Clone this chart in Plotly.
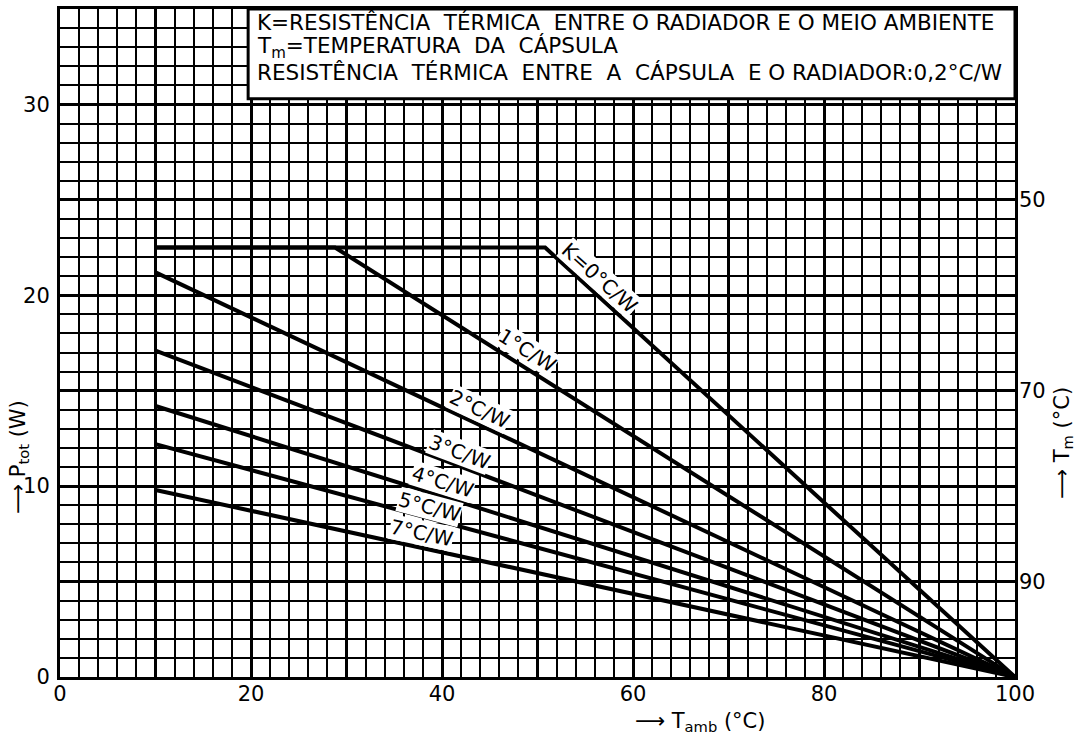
import plotly.graph_objects as go

# curves: ambient temperature vs total power, one per heatsink resistance K
k_labels = ["K=0°C/W", "1°C/W", "2°C/W", "3°C/W", "4°C/W", "5°C/W", "7°C/W"]
t_amb = [
    [10, 50.8, 100],
    [10, 28.8, 100],
    [10, 100],
    [10, 100],
    [10, 100],
    [10, 100],
    [10, 100],
]
p_tot = [
    [22.5, 22.5, 0],
    [22.5, 22.5, 0],
    [21.2, 0],
    [17.1, 0],
    [14.2, 0],
    [12.2, 0],
    [9.8, 0],
]

x_tickvals = [0, 10, 20, 30, 40, 50, 60, 70, 80, 90, 100]
x_ticktext = ["0", "", "20", "", "40", "", "60", "", "80", "", "100"]
y_tickvals = [0, 5, 10, 15, 20, 25, 30, 35]
y_ticktext = ["0", "", "10", "", "20", "", "30", ""]
tm_ticks = [50, 70, 90]

box_lines = [
    "K=RESISTÊNCIA  TÉRMICA  ENTRE O RADIADOR E O MEIO AMBIENTE",
    "T<sub>m</sub>=TEMPERATURA  DA  CÁPSULA",
    "RESISTÊNCIA  TÉRMICA  ENTRE  A  CÁPSULA  E O RADIADOR:0,2°C/W",
]

# label placement (x, y, angle) along each curve
label_pos = [
    (56.5, 20.9, 42),
    (48.9, 17.15, 32),
    (43.9, 14.05, 25),
    (41.8, 11.8, 20.5),
    (40.1, 10.2, 17.3),
    (38.7, 8.9, 15),
    (37.9, 7.55, 12),
]

FONT = "DejaVu Sans"

L, R, T, B = 60, 65, 9, 65
W, H = 1080, 742

fig = go.Figure()

for xs, ys, name in zip(t_amb, p_tot, k_labels):
    fig.add_trace(go.Scatter(x=xs, y=ys, mode="lines", name=name,
                             line=dict(color="black", width=4),
                             showlegend=False, hoverinfo="skip"))

# invisible trace so the right-hand Tm axis is drawn
fig.add_trace(go.Scatter(x=[0], y=[0], yaxis="y2", mode="markers",
                         marker=dict(opacity=0), showlegend=False,
                         hoverinfo="skip"))

fig.update_layout(
    width=W, height=H,
    margin=dict(l=L, r=R, t=T, b=B),
    paper_bgcolor="white", plot_bgcolor="white",
    font=dict(family=FONT, color="black", size=20),
    xaxis=dict(
        range=[0, 100], tickmode="array", tickvals=x_tickvals, ticktext=x_ticktext,
        showgrid=True, gridcolor="black", gridwidth=2.8,
        minor=dict(dtick=2, showgrid=True, gridcolor="black", gridwidth=2),
        zeroline=False, showline=True, linecolor="black", linewidth=3, mirror=True,
        ticks="", tickfont=dict(size=21), ticklabelstandoff=-4, automargin=False,
    ),
    yaxis=dict(
        range=[0, 35], tickmode="array", tickvals=y_tickvals, ticktext=y_ticktext,
        showgrid=True, gridcolor="black", gridwidth=2.8,
        minor=dict(dtick=1, showgrid=True, gridcolor="black", gridwidth=2),
        zeroline=False, showline=True, linecolor="black", linewidth=3, mirror=True,
        ticks="", tickfont=dict(size=21), ticklabelstandoff=3, automargin=False,
    ),
    yaxis2=dict(
        range=[0, 35], overlaying="y", side="right", tickmode="array",
        tickvals=[(100 - t) / 2 for t in tm_ticks], ticktext=[str(t) for t in tm_ticks],
        showgrid=False, zeroline=False, ticks="", tickfont=dict(size=21),
        ticklabelstandoff=3, automargin=False,
    ),
)

# legend box covering the grid
fig.add_shape(type="rect", xref="x", yref="y", x0=19.7, x1=100, y0=30.3, y1=35,
              fillcolor="white", line=dict(color="black", width=3), layer="above")

for i, txt in enumerate(box_lines):
    fig.add_annotation(x=20.4, y=[34.27, 33.0, 31.65][i], xref="x", yref="y",
                       text=txt, showarrow=False, xanchor="left", yanchor="middle",
                       font=dict(family=FONT, size=21.5, color="black"))

for (lx, ly, ang), txt in zip(label_pos, k_labels):
    fig.add_annotation(x=lx, y=ly, xref="x", yref="y", text=txt, showarrow=False,
                       textangle=ang, bgcolor="white", borderpad=0,
                       font=dict(family=FONT, size=20, color="black"))


def paper_x(px):
    return (px - L) / (W - L - R)


def paper_y(py):
    return (H - B - py) / (H - T - B)


# axis titles with arrows, placed by pixel position
fig.add_annotation(x=paper_x(19), y=paper_y(457), xref="paper", yref="paper",
                   text="⟶ P<sub>tot</sub> (W)", showarrow=False, textangle=-90,
                   xanchor="center", yanchor="middle", font=dict(size=21))
fig.add_annotation(x=paper_x(1063), y=paper_y(443), xref="paper", yref="paper",
                   text="⟶ T<sub>m</sub> (°C)", showarrow=False, textangle=-90,
                   xanchor="center", yanchor="middle", font=dict(size=21))
fig.add_annotation(x=paper_x(700), y=paper_y(722), xref="paper", yref="paper",
                   text="⟶ T<sub>amb</sub> (°C)", showarrow=False,
                   xanchor="center", yanchor="middle", font=dict(size=21))

fig.write_html("out.html", config={"displayModeBar": False},
               post_script="document.body.style.margin='0';")
